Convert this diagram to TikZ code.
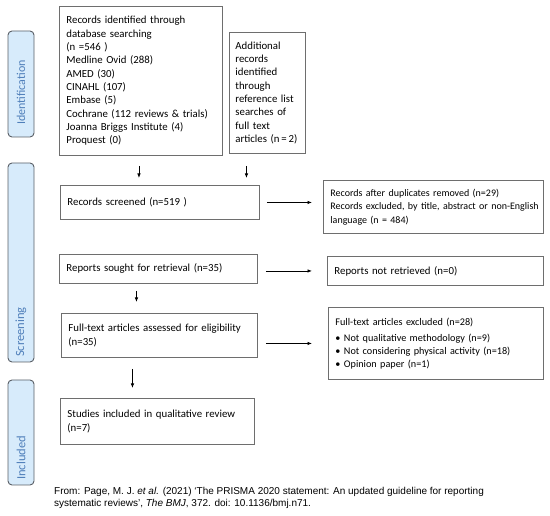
\documentclass[tikz,border=0pt]{standalone}
\usepackage{fontspec}
\setmainfont{Carlito}[WordSpace=0.85]
\newfontfamily\captionfont{Liberation Sans}
\usetikzlibrary{positioning,calc,arrows.meta}

\definecolor{barfill}{HTML}{D7EBFB}
\definecolor{barline}{HTML}{5A5F66}
\definecolor{bartext}{HTML}{4F7FBA}
\definecolor{boxline}{HTML}{6E6E6E}

\begin{document}
\begin{tikzpicture}[x=1pt,y=-1pt,>={Latex[length=4.5pt,width=3.5pt]},
  box/.style={draw=boxline,line width=0.9pt,anchor=north west,align=left,
    inner sep=7pt,font=\fontsize{10.8}{13.3}\selectfont},
  phasebar/.style={draw=barline,fill=barfill,line width=0.9pt,rounded corners=4pt},
  phaselabel/.style={rotate=90,anchor=west,text=bartext,inner sep=0pt,
    font=\fontsize{12.5}{15}\selectfont},
  flow/.style={->,line width=0.8pt}]

\useasboundingbox (0,0) rectangle (550,516);

% phase bars
\draw [phasebar] (8,31) rectangle (34,137);
\draw [phasebar] (8,163) rectangle (34,362);
\draw [phasebar] (8,380) rectangle (34,485);
\coordinate (idbar) at (21,137);
\coordinate (scrbar) at (21,362);
\coordinate (incbar) at (21,485);
\node [phaselabel,font=\fontsize{12}{15}\selectfont] at ([yshift=12pt]idbar) {Identification};
\node [phaselabel] at ([yshift=5pt]scrbar) {Screening};
\node [phaselabel] at ([yshift=5pt]incbar) {Included};

% boxes
\node [box,text width=149pt,minimum height=149pt] at (59,6) (ident)
  {Records identified through\\database searching\\(n =546 )\\Medline Ovid (288)\\AMED (30)\\CINAHL (107)\\Embase (5)\\Cochrane (112 reviews \& trials)\\Joanna Briggs Institute (4)\\Proquest (0)};
\node [box,text width=64pt,minimum height=121pt,inner xsep=6pt] at (229,32) (add)
  {Additional\\records\\identified\\through\\reference list\\searches of\\full text\\articles (n\,=\,2)};
\node [box,text width=185pt,minimum height=34pt] at (60,185) (screened)
  {Records screened (n=519 )};
\node [box,text width=206pt,minimum height=53pt,font=\fontsize{10}{13.3}\selectfont] at (323,180) (dup)
  {Records after duplicates removed (n=29)\\\mbox{Records excluded, by title, abstract or non-English}\\language (n = 484)};
\node [box,text width=184pt,minimum height=29pt] at (59,254) (sought)
  {Reports sought for retrieval (n=35)};
\node [box,text width=202pt,minimum height=29pt] at (327,256) (notret)
  {Reports not retrieved (n=0)};
\node [box,text width=182pt,minimum height=44pt] at (61,313) (fulltext)
  {Full-text articles assessed for eligibility\\(n=35)};
\node [box,text width=201pt,minimum height=72pt,font=\fontsize{10.2}{13}\selectfont] at (328,307) (excl)
  {Full-text articles excluded (n=28)\\[3pt]\textbullet\ Not qualitative methodology (n=9)\\\textbullet\ Not considering physical activity (n=18)\\\textbullet\ Opinion paper (n=1)};
\node [box,text width=180pt,minimum height=46pt] at (60,398) (incl)
  {Studies included in qualitative review\\(n=7)};

% caption
\node [anchor=north west,align=left,inner sep=0pt,
  font=\captionfont\fontsize{10}{12.5}\selectfont] at (54,487) (source)
  {From: Page, M. J. \textit{et al.} (2021) ‘The PRISMA 2020 statement: An updated guideline for reporting\\systematic reviews’, \textit{The BMJ}, 372. doi: 10.1136/bmj.n71.};

% arrows
\draw [flow,shorten <=10pt,shorten >=7pt] ([xshift=-2pt]ident.south) -- ([xshift=-2pt]ident.south |- screened.north);
\draw [flow,shorten <=12pt,shorten >=7pt] ([xshift=-21pt]add.south) -- ([xshift=-21pt]add.south |- screened.north);
\draw [flow,shorten <=7pt,shorten >=11pt] (screened.east) -- (screened.east -| dup.west);
\draw [flow,shorten <=8pt,shorten >=15pt] (sought.east |- notret.west) -- (notret.west);
\draw [flow,shorten <=7pt,shorten >=11pt] ([xshift=-22pt]sought.south) -- ([xshift=-22pt]sought.south |- fulltext.north);
\draw [flow,shorten <=8pt,shorten >=16pt] (fulltext.east |- excl.west) -- (excl.west);
\draw [flow,shorten <=11pt,shorten >=10pt] ([xshift=-27pt]fulltext.south) -- ([xshift=-27pt]fulltext.south |- incl.north);

\end{tikzpicture}
\end{document}
